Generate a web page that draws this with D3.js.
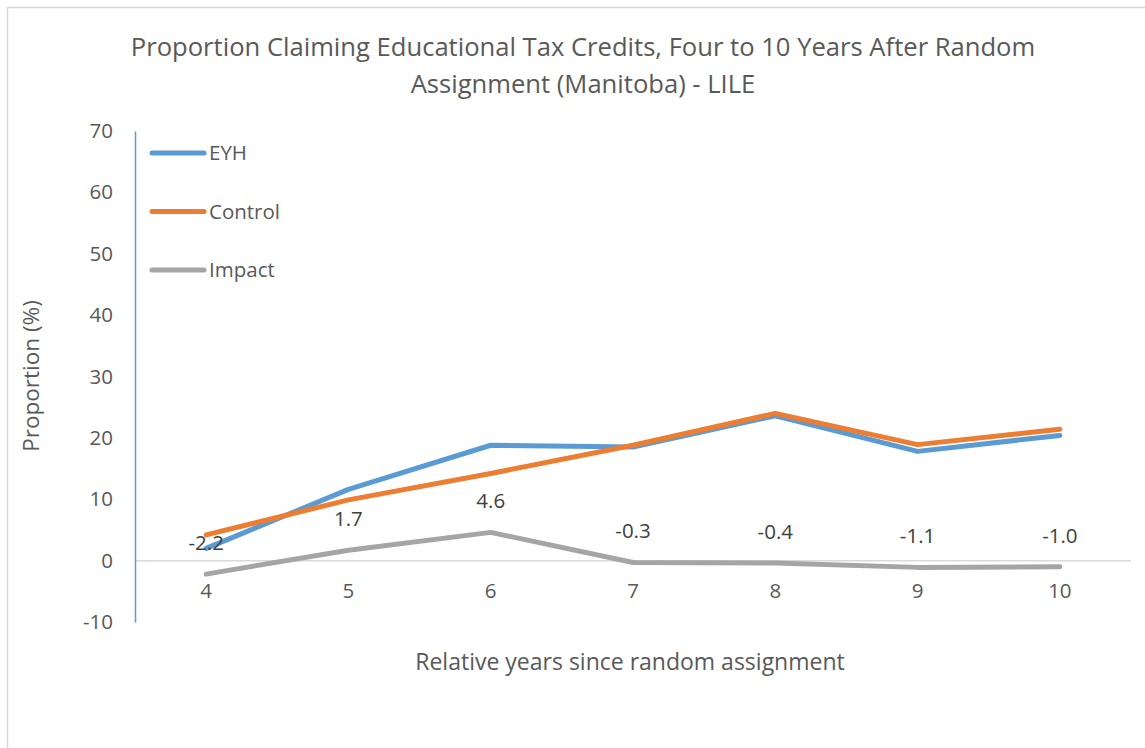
<!DOCTYPE html>
<html><head><meta charset="utf-8">
<script src="https://cdn.jsdelivr.net/npm/d3@7"></script>
<style>body{margin:0;background:#fff}svg{display:block}text{font-family:"Open Sans",sans-serif;fill:#595959}</style>
</head><body><svg id="c" width="1145" height="748"></svg>
<script>
const years = ["4","5","6","7","8","9","10"];
const eyh = [2.0, 11.6, 18.8, 18.5, 23.6, 17.8, 20.4];
const control = [4.2, 9.9, 14.2, 18.8, 24.0, 18.9, 21.4];
const impact = [-2.2, 1.7, 4.6, -0.3, -0.4, -1.1, -1.0];
const impactLabels = ["-2.2","1.7","4.6","-0.3","-0.4","-1.1","-1.0"];
const yTicks = [-10,0,10,20,30,40,50,60,70];
const seriesNames = ["EYH","Control","Impact"];
const colors = ["#5B9BD5","#ED7D31","#A5A5A5"];

const svg = d3.select("#c");
svg.append("rect").attr("x",7.5).attr("y",7.5).attr("width",1145).attr("height",760)
  .attr("fill","#fff").attr("stroke","#d9d9d9").attr("stroke-width",1.5);

const x = d3.scaleBand().domain(years).range([135,1131]);
const y = d3.scaleLinear().domain([-10,70]).range([622,131]);
const cx = d => x(d)+x.bandwidth()/2;

svg.append("line").attr("x1",135).attr("x2",1131).attr("y1",y(0)).attr("y2",y(0))
  .attr("stroke","#d9d9d9").attr("stroke-width",1.5);

const ya = svg.append("g").attr("transform","translate(135,0)")
  .call(d3.axisLeft(y).tickValues(yTicks).tickFormat(d=>String(d)).tickSize(0).tickPadding(22));
ya.select(".domain").attr("stroke","#5B9BD5").attr("stroke-width",1.5);
ya.selectAll("text").style("font-size","20.5px").attr("fill","#595959").style("font-family","Open Sans");

const xa = svg.append("g").attr("transform",`translate(0,${y(0)})`)
  .call(d3.axisBottom(x).tickSize(0).tickPadding(23));
xa.select(".domain").remove();
xa.selectAll("text").style("font-size","20.5px").attr("fill","#595959").style("font-family","Open Sans");

const line = d3.line().x((d,i)=>cx(years[i])).y(d=>y(d));
[eyh,control,impact].forEach((s,k)=>{
  svg.append("path").datum(s).attr("d",line).attr("fill","none")
    .attr("stroke",colors[k]).attr("stroke-width",5).attr("stroke-linejoin","round").attr("stroke-linecap","round");
});

svg.selectAll(".dl").data(impact).enter().append("text")
  .attr("x",(d,i)=>cx(years[i])).attr("y",d=>y(d)-24)
  .attr("text-anchor","middle").style("font-size","20.5px").style("fill","#404040")
  .text((d,i)=>impactLabels[i]);

seriesNames.forEach((n,k)=>{
  const ly = 153 + k*58.5;
  svg.append("line").attr("x1",152).attr("x2",204).attr("y1",ly).attr("y2",ly)
    .attr("stroke",colors[k]).attr("stroke-width",5).attr("stroke-linecap","round");
  svg.append("text").attr("x",209).attr("y",ly+7).style("font-size","20.5px").text(n);
});

svg.append("text").attr("x",583).attr("y",56).attr("text-anchor","middle").style("font-size","25.6px")
  .text("Proportion Claiming Educational Tax Credits, Four to 10 Years After Random");
svg.append("text").attr("x",583).attr("y",93).attr("text-anchor","middle").style("font-size","25.6px")
  .text("Assignment (Manitoba) - LILE");
svg.append("text").attr("transform","translate(39,376) rotate(-90)").attr("text-anchor","middle")
  .style("font-size","22.5px").text("Proportion (%)");
svg.append("text").attr("x",630).attr("y",670).attr("text-anchor","middle").style("font-size","23px")
  .text("Relative years since random assignment");
</script></body></html>
